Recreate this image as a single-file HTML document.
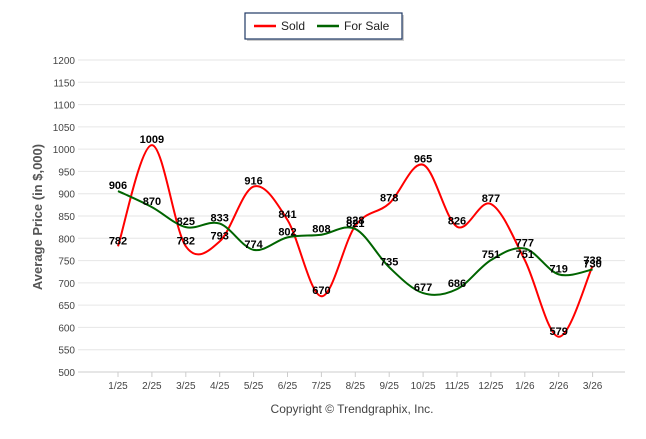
<!DOCTYPE html>
<html><head><meta charset="utf-8"><style>
body{margin:0;background:#fff;font-family:"Liberation Sans",sans-serif}
svg text{font-family:"Liberation Sans",sans-serif}
</style></head><body>
<svg id="chart" width="646" height="434">
<g>
<rect x="247" y="15" width="157" height="26" fill="#999" opacity="0.5"/>
<rect x="245" y="13" width="157" height="26" fill="#fff" stroke="#1f3864" stroke-width="1.2"/>
<line x1="254" y1="26" x2="276" y2="26" stroke="#f00" stroke-width="2.5"/>
<text x="281" y="30" font-size="12" fill="#222">Sold</text>
<line x1="317" y1="26" x2="339" y2="26" stroke="#006400" stroke-width="2.5"/>
<text x="344" y="30" font-size="12" fill="#222">For Sale</text>
</g>
<text transform="translate(42,217) rotate(-90)" text-anchor="middle" font-size="13" font-weight="bold" fill="#555">Average Price (in $,000)</text>
<text x="352" y="413" text-anchor="middle" font-size="12" fill="#444">Copyright © Trendgraphix, Inc.</text>
<g id="grid"></g><g id="xt"></g><g id="lines"></g><g id="labels"></g>
</svg>
<script>
const categories=["1/25","2/25","3/25","4/25","5/25","6/25","7/25","8/25","9/25","10/25","11/25","12/25","1/26","2/26","3/26"];
const soldValues=[782,1009,782,793,916,841,670,828,878,965,826,877,751,579,738];
const forSaleValues=[906,870,825,833,774,802,808,821,735,677,686,751,777,719,730];
const yTicks=[500,550,600,650,700,750,800,850,900,950,1000,1050,1100,1150,1200];
const NS="http://www.w3.org/2000/svg";
const L=78,R=625,Y0=372,Y1=60;
function x(i){return 118+33.9*i;}
function y(v){return Y0-(v-500)*(Y0-Y1)/700;}
function mk(t,a,p){const e=document.createElementNS(NS,t);for(const k in a)e.setAttribute(k,a[k]);p.appendChild(e);return e;}
const grid=document.getElementById('grid');
yTicks.forEach(v=>{
 const l=mk('line',{x1:L,x2:R,y1:y(v),y2:y(v),stroke:'#e6e6e6','stroke-width':1},grid);
 
 
 const t=mk('text',{x:75,y:y(v)+4,'text-anchor':'end','font-size':10,fill:'#444'},grid);
 t.textContent=v;
 
 
});
const xt=document.getElementById('xt');
mk('line',{x1:L,x2:R,y1:Y0,y2:Y0,stroke:'#ccc'},xt);
categories.forEach((c,i)=>{
 mk('line',{x1:x(i),x2:x(i),y1:Y0,y2:Y0+5,stroke:'#ccc'},xt);
 const t=mk('text',{x:x(i),y:389,'text-anchor':'middle','font-size':10,fill:'#444'},xt);
 t.textContent=c;
 
 
});
function path(vals){
 const p=vals.map((v,i)=>[x(i),y(v)]);
 let d='M'+p[0][0]+','+p[0][1];
 for(let i=0;i<p.length-1;i++){
  const p0=p[i-1]||p[i],p1=p[i],p2=p[i+1],p3=p[i+2]||p2;
  const c1=[p1[0]+(p2[0]-p0[0])/6,p1[1]+(p2[1]-p0[1])/6];
  const c2=[p2[0]-(p3[0]-p1[0])/6,p2[1]-(p3[1]-p1[1])/6];
  d+=' C'+c1+' '+c2+' '+p2;
 }
 return d;
}
const lines=document.getElementById('lines');
const s=mk('path',{d:path(soldValues),fill:'none',stroke:'#f00','stroke-width':2},lines);


const f=mk('path',{d:path(forSaleValues),fill:'none',stroke:'#006400','stroke-width':2},lines);


const lab=document.getElementById('labels');
[[soldValues,'sold'],[forSaleValues,'for-sale']].forEach(([vals,n])=>{
 vals.forEach((v,i)=>{
  const t=mk('text',{x:x(i),y:y(v)-2,'text-anchor':'middle','font-size':11,'font-weight':'bold',fill:'#000'},lab);
  t.textContent=v;
  
  
 });
});
</script>
</body></html>
